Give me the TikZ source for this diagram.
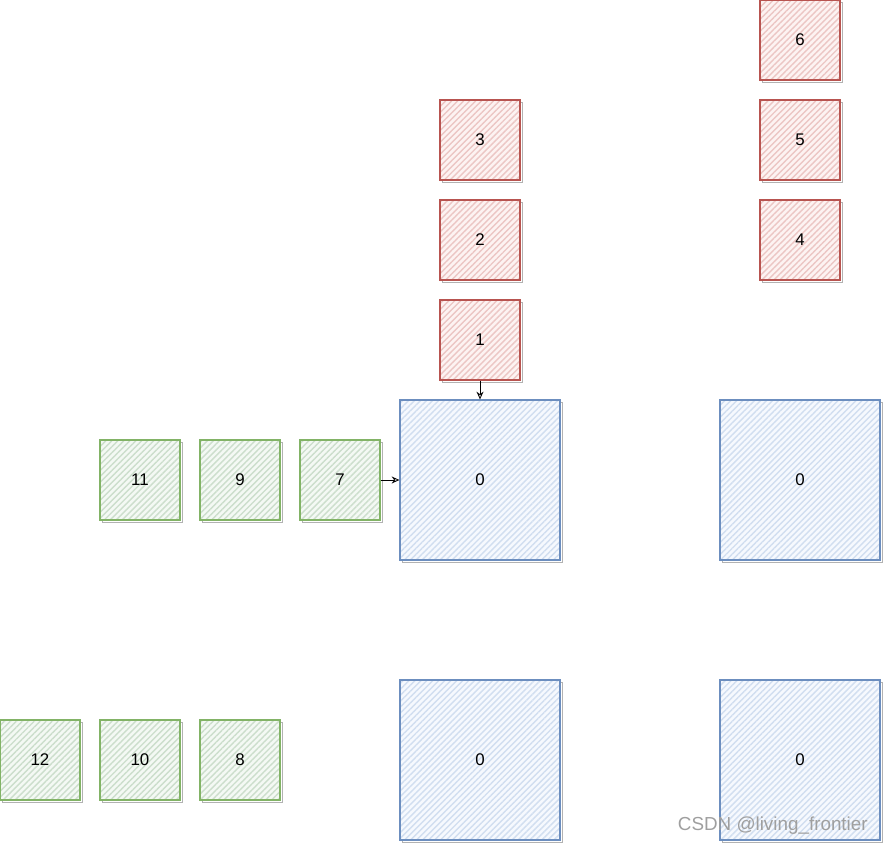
\documentclass[tikz,border=0pt]{standalone}
\usepackage{fontspec}
\setmainfont{Liberation Sans}
\usetikzlibrary{patterns.meta,shadows,arrows.meta}

\definecolor{redfill}{HTML}{F8CECC}
\definecolor{redline}{HTML}{B85450}
\definecolor{bluefill}{HTML}{DAE8FC}
\definecolor{blueline}{HTML}{6C8EBF}
\definecolor{greenfill}{HTML}{D5E8D4}
\definecolor{greenline}{HTML}{82B366}

\tikzset{
  sketch/.style={draw=#1line, line width=0.85pt,
    general shadow={shadow xshift=1.5pt, shadow yshift=-1.5pt, draw=gray!60, line width=0.6pt},
    preaction={fill=#1fill!25},
    preaction={pattern={Lines[angle=45,distance=3pt,line width=1pt]}, pattern color=#1fill!90!gray},
    inner sep=0pt, font=\fontsize{12}{14}\selectfont},
  smallbox/.style={sketch=#1, minimum size=2cm},
  bigbox/.style={sketch=blue, minimum size=4cm},
  link/.style={-{Stealth[open,length=5.5pt,width=5pt]}, line width=0.6pt},
}

\begin{document}
\begin{tikzpicture}[x=0.025cm,y=-0.025cm]
                \useasboundingbox (0,0) rectangle (884,845);
                % red column over the first big box
                \node[smallbox=red] (r1) at (480,340) {1};
                \node[smallbox=red] (r2) at (480,240) {2};
                \node[smallbox=red] (r3) at (480,140) {3};
                % red column on the right
                \node[smallbox=red] (r4) at (800,240) {4};
                \node[smallbox=red] (r5) at (800,140) {5};
                \node[smallbox=red] (r6) at (800,40) {6};
                % big boxes
                \node[bigbox] (b1) at (480,480) {0};
                \node[bigbox] (b2) at (800,480) {0};
                \node[bigbox] (b3) at (480,760) {0};
                \node[bigbox] (b4) at (800,760) {0};
                % green rows
                \node[smallbox=green] (g7) at (340,480) {7};
                \node[smallbox=green] (g9) at (240,480) {9};
                \node[smallbox=green] (g11) at (140,480) {11};
                \node[smallbox=green] (g8) at (240,760) {8};
                \node[smallbox=green] (g10) at (140,760) {10};
                \node[smallbox=green] (g12) at (40,760) {12};
                \draw[link] (r1) -- (b1);
                \draw[link] (g7) -- (b1);
                \node[text=gray!75, inner sep=0pt, font=\fontsize{13.4}{15}\selectfont, anchor=base east] (mark) at (868,831) {CSDN @living\_frontier};
\end{tikzpicture}
\end{document}
